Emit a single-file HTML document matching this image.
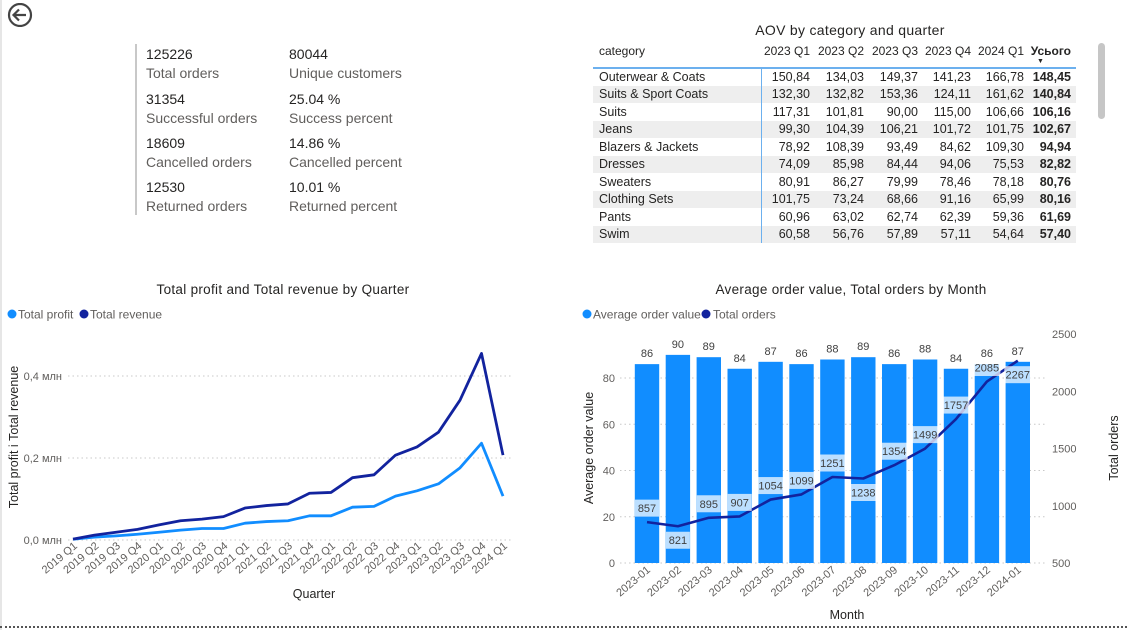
<!DOCTYPE html>
<html><head><meta charset="utf-8">
<style>
body{margin:0;width:1127px;height:630px;background:#fff;font-family:"Liberation Sans","DejaVu Sans",sans-serif;overflow:hidden;position:relative;color:#252423}
.abs{position:absolute}
.kv{position:absolute;font-size:14px;color:#252423}
.kl{position:absolute;font-size:14px;color:#605E5C}
table{border-collapse:collapse;font-size:12px}
</style></head><body>
<div class="abs" style="left:0;top:0;width:2px;height:630px;background:#e6e6e6"></div>
<div class="abs" style="left:0;top:626px;width:1127px;border-top:2px dotted #555"></div>
<svg class="abs" style="left:6px;top:3px" width="28" height="24" viewBox="0 0 28 24"><circle cx="14" cy="12" r="11" fill="none" stroke="#444" stroke-width="2.2"/><path d="M20 12H8M13 6.5L7.5 12L13 17.5" fill="none" stroke="#444" stroke-width="2.2"/></svg>

<div>
<div class="abs" style="left:135px;top:44px;width:2px;height:171px;background:#c8c8c8"></div>
<div class="kv" style="left:146px;top:46px">125226</div>
<div class="kl" style="left:146px;top:65px">Total orders</div>
<div class="kv" style="left:289px;top:46px">80044</div>
<div class="kl" style="left:289px;top:65px">Unique customers</div>
<div class="kv" style="left:146px;top:91px">31354</div>
<div class="kl" style="left:146px;top:110px">Successful orders</div>
<div class="kv" style="left:289px;top:91px">25.04 %</div>
<div class="kl" style="left:289px;top:110px">Success percent</div>
<div class="kv" style="left:146px;top:135px">18609</div>
<div class="kl" style="left:146px;top:154px">Cancelled orders</div>
<div class="kv" style="left:289px;top:135px">14.86 %</div>
<div class="kl" style="left:289px;top:154px">Cancelled percent</div>
<div class="kv" style="left:146px;top:179px">12530</div>
<div class="kl" style="left:146px;top:198px">Returned orders</div>
<div class="kv" style="left:289px;top:179px">10.01 %</div>
<div class="kl" style="left:289px;top:198px">Returned percent</div>
</div>

<div class="abs" style="left:700px;top:22px;width:300px;text-align:center;font-size:14px;letter-spacing:0.3px">AOV by category and quarter</div>
<div class="abs" style="left:1098px;top:43px;width:7px;height:76px;background:#c6c6c6;border-radius:4px"></div>
<div class="abs" style="left:593px;top:42px">
<table id="tbl"></table>
</div>
<script>
const tblCols=["2023 Q1","2023 Q2","2023 Q3","2023 Q4","2024 Q1"];
const tblCats=["Outerwear & Coats","Suits & Sport Coats","Suits","Jeans","Blazers & Jackets","Dresses","Sweaters","Clothing Sets","Pants","Swim"];
const tblVals=[["150,84","134,03","149,37","141,23","166,78","148,45"],["132,30","132,82","153,36","124,11","161,62","140,84"],["117,31","101,81","90,00","115,00","106,66","106,16"],["99,30","104,39","106,21","101,72","101,75","102,67"],["78,92","108,39","93,49","84,62","109,30","94,94"],["74,09","85,98","84,44","94,06","75,53","82,82"],["80,91","86,27","79,99","78,46","78,18","80,76"],["101,75","73,24","68,66","91,16","65,99","80,16"],["60,96","63,02","62,74","62,39","59,36","61,69"],["60,58","56,76","57,89","57,11","54,64","57,40"]];
(function(){
const t=document.getElementById('tbl');
const widths=[167,48,52,52,51,51,45];
let h='<tr style="height:26px;border-bottom:2px solid #6CB0EE">';
h+='<td style="width:'+(widths[0]-6)+'px;padding-left:6px;vertical-align:top;padding-top:2px">category</td>';
tblCols.forEach((c,i)=>{h+='<td style="width:'+widths[i+1]+'px;text-align:right;vertical-align:top;padding-top:2px;padding-right:1px">'+c+'</td>';});
h+='<td style="width:'+(widths[6])+'px;text-align:right;font-weight:bold;vertical-align:top;padding-top:2px;padding-right:5px;position:relative">Усього<span style="position:absolute;left:12px;top:16px;font-size:7px">▼</span></td></tr>';
tblCats.forEach((c,r)=>{
 h+='<tr style="height:17.5px;background:'+(r%2?'#eeeeee':'#fff')+'">';
 h+='<td style="padding-left:6px;border-right:1px solid #6CB0EE;font-size:12.5px">'+c.replace('&','&amp;')+'</td>';
 tblVals[r].forEach((v,i)=>{h+='<td style="text-align:right;font-size:12.5px;padding-right:'+(i==5?5:1)+'px;'+(i==5?'font-weight:bold':'')+'">'+v+'</td>';});
 h+='</tr>';
});
t.innerHTML=h;
})();
</script>

<svg class="abs" id="c1" style="left:0;top:275px" width="570" height="350"></svg>
<svg class="abs" id="c2" style="left:575px;top:275px" width="552" height="350"></svg>
<script>
const qCats=["2019 Q1","2019 Q2","2019 Q3","2019 Q4","2020 Q1","2020 Q2","2020 Q3","2020 Q4","2021 Q1","2021 Q2","2021 Q3","2021 Q4","2022 Q1","2022 Q2","2022 Q3","2022 Q4","2023 Q1","2023 Q2","2023 Q3","2023 Q4","2024 Q1"];
const revenueVals=[0.002,0.012,0.019,0.026,0.037,0.047,0.051,0.057,0.078,0.084,0.088,0.114,0.116,0.152,0.159,0.207,0.227,0.263,0.341,0.455,0.207];
const profitVals=[0.002,0.007,0.010,0.014,0.019,0.024,0.028,0.028,0.041,0.045,0.047,0.059,0.059,0.080,0.082,0.107,0.120,0.137,0.176,0.236,0.107];
const leftTicks=[0,0.2,0.4];
const leftTickLabels=["0,0 млн","0,2 млн","0,4 млн"];

const mCats=["2023-01","2023-02","2023-03","2023-04","2023-05","2023-06","2023-07","2023-08","2023-09","2023-10","2023-11","2023-12","2024-01"];
const aovVals=[86,90,89,84,87,86,88,89,86,88,84,86,87];
const orderVals=[857,821,895,907,1054,1099,1251,1238,1354,1499,1757,2085,2267];
const orderLabelSide=["above","below","above","above","above","above","above","below","above","above","above","above","below"];
const aovTicks=[0,20,40,60,80];
const orderTicks=[500,1000,1500,2000,2500];

const NS='http://www.w3.org/2000/svg';
function mk(svg,tag,attrs,txt){const e=document.createElementNS(NS,tag);for(const k in attrs)e.setAttribute(k,attrs[k]);if(txt!==undefined)e.textContent=txt;svg.appendChild(e);return e;}

(function(){
const s=document.getElementById('c1');
const X=i=>73+i*21.5, Y=v=>265-v*410;
let e;
e=mk(s,'text',{x:283,y:19,'text-anchor':'middle','font-size':13.5,fill:'#252423','letter-spacing':'0.3'},'Total profit and Total revenue by Quarter');


[[12,'#118DFF','Total profit',18],[84,'#12239E','Total revenue',90]].forEach(l=>{
 const g=mk(s,'g',{});
 
 
 mk(g,'circle',{cx:l[0],cy:39,r:4.5,fill:l[1]});
 mk(g,'text',{x:l[3],y:43.5,'font-size':12,fill:'#605E5C'},l[2]);
});
leftTicks.forEach((t,i)=>{
 e=mk(s,'line',{x1:68,x2:512,y1:Y(t),y2:Y(t),stroke:'#c8c8c8','stroke-dasharray':'1.5 3'});
 
 
 e=mk(s,'text',{x:62,y:Y(t)+4,'text-anchor':'end','font-size':11,fill:'#605E5C'},leftTickLabels[i]);
 
 
});
qCats.forEach((c,i)=>{
 e=mk(s,'text',{x:X(i)+5,y:272,'text-anchor':'end','font-size':11,fill:'#605E5C',transform:'rotate(-40 '+(X(i)+5)+' 272)'},c);
 
 
});
e=mk(s,'text',{x:314,y:323,'text-anchor':'middle','font-size':12.5,fill:'#252423'},'Quarter');


e=mk(s,'text',{x:0,y:0,'text-anchor':'middle','font-size':12.5,fill:'#252423',transform:'translate(18 162) rotate(-90)'},'Total profit і Total revenue');


e=mk(s,'polyline',{points:profitVals.map((v,i)=>X(i)+','+Y(v)).join(' '),fill:'none',stroke:'#118DFF','stroke-width':2.8,'stroke-linejoin':'round'});


e=mk(s,'polyline',{points:revenueVals.map((v,i)=>X(i)+','+Y(v)).join(' '),fill:'none',stroke:'#12239E','stroke-width':2.8,'stroke-linejoin':'round'});


})();

(function(){
const s=document.getElementById('c2');
const X=i=>72+i*30.9, Y=v=>288-v*2.3125, Y2=v=>288-(v-500)*0.1145;
let e;
e=mk(s,'text',{x:276,y:19,'text-anchor':'middle','font-size':13.5,fill:'#252423','letter-spacing':'0.3'},'Average order value, Total orders by Month');


[[12,'#118DFF','Average order value',18],[131,'#12239E','Total orders',138]].forEach(l=>{
 const g=mk(s,'g',{});
 
 
 mk(g,'circle',{cx:l[0],cy:39,r:4.5,fill:l[1]});
 mk(g,'text',{x:l[3],y:43.5,'font-size':12,fill:'#605E5C'},l[2]);
});
aovTicks.forEach(t=>{
 e=mk(s,'line',{x1:45,x2:470,y1:Y(t),y2:Y(t),stroke:'#c8c8c8','stroke-dasharray':'1.5 3'});
 
 
 e=mk(s,'text',{x:40,y:Y(t)+4,'text-anchor':'end','font-size':11,fill:'#605E5C'},t);
 
 
});
orderTicks.forEach(t=>{
 e=mk(s,'text',{x:477,y:Y2(t)+4,'font-size':11,fill:'#605E5C'},t);
 
 
});
mCats.forEach((c,i)=>{
 e=mk(s,'rect',{x:X(i)-12.2,y:Y(aovVals[i]),width:24.4,height:Y(0)-Y(aovVals[i]),fill:'#118DFF'});
 
 
 e=mk(s,'text',{x:X(i),y:Y(aovVals[i])-7,'text-anchor':'middle','font-size':11,fill:'#404040'},aovVals[i]);
 
 
 e=mk(s,'text',{x:X(i)+4,y:296,'text-anchor':'end','font-size':11,fill:'#605E5C',transform:'rotate(-40 '+(X(i)+4)+' 296)'},c);
 
 
});
e=mk(s,'polyline',{points:orderVals.map((v,i)=>X(i)+','+Y2(v)).join(' '),fill:'none',stroke:'#12239E','stroke-width':2.6,'stroke-linejoin':'round'});


orderVals.forEach((v,i)=>{
 const cy=Y2(v)+(orderLabelSide[i]==='above'?-14:14);
 const w=String(v).length>3?27:24;
 e=mk(s,'rect',{x:X(i)-w/2,y:cy-8.5,width:w,height:17,fill:'#ffffff','fill-opacity':0.72});
 
 
 e=mk(s,'text',{x:X(i),y:cy+4,'text-anchor':'middle','font-size':11,fill:'#404040'},v);
 
 
});
e=mk(s,'text',{x:272,y:344,'text-anchor':'middle','font-size':12.5,fill:'#252423'},'Month');


e=mk(s,'text',{x:0,y:0,'text-anchor':'middle','font-size':12.5,fill:'#252423',transform:'translate(18 173) rotate(-90)'},'Average order value');


e=mk(s,'text',{x:0,y:0,'text-anchor':'middle','font-size':12.5,fill:'#252423',transform:'translate(543 173) rotate(-90)'},'Total orders');


})();
</script>
</body></html>
